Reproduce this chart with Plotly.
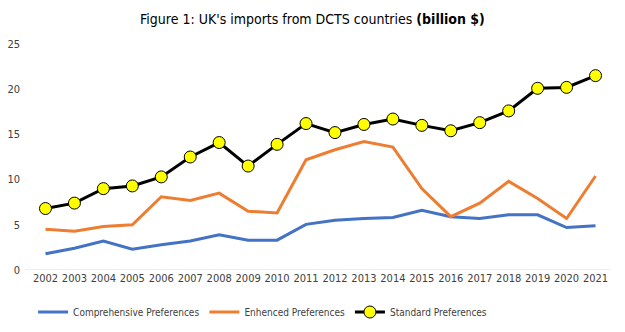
import plotly.graph_objects as go

years = [str(y) for y in range(2002, 2022)]
comprehensive = [1.8, 2.4, 3.2, 2.3, 2.8, 3.2, 3.9, 3.3, 3.3, 5.05, 5.5, 5.7, 5.8, 6.6, 5.9, 5.7, 6.1, 6.1, 4.7, 4.9]
enhenced = [4.5, 4.3, 4.8, 5.0, 8.1, 7.7, 8.5, 6.5, 6.3, 12.2, 13.3, 14.2, 13.6, 9.0, 5.9, 7.4, 9.8, 7.9, 5.7, 10.4]
standard = [6.8, 7.4, 9.0, 9.3, 10.3, 12.5, 14.1, 11.5, 13.9, 16.2, 15.2, 16.1, 16.7, 16.0, 15.4, 16.3, 17.6, 20.1, 20.2, 21.5]
y_ticks = [0, 5, 10, 15, 20, 25]

FONT = "DejaVu Sans Condensed, Liberation Sans, Arial, sans-serif"

fig = go.Figure()
fig.add_trace(go.Scatter(x=years, y=comprehensive, mode="lines", name="Comprehensive Preferences",
                         line=dict(color="#4472C4", width=3)))
fig.add_trace(go.Scatter(x=years, y=enhenced, mode="lines", name="Enhenced Preferences",
                         line=dict(color="#ED7D31", width=3)))
fig.add_trace(go.Scatter(x=years, y=standard, mode="lines+markers", name="Standard Preferences",
                         line=dict(color="#000000", width=3),
                         marker=dict(color="#FFFF00", size=12, line=dict(color="#000000", width=1))))

fig.update_layout(
    width=625, height=332,
    margin=dict(l=31, r=15, t=44, b=62, autoexpand=False),
    paper_bgcolor="white", plot_bgcolor="white",
    font=dict(family=FONT, size=11, color="#404040"),
    title=dict(text="Figure 1: UK's imports from DCTS countries <b>(billion $)</b>",
               x=0.5, xanchor="center", y=1 - 19/332, yanchor="middle",
               font=dict(family=FONT, size=14, color="#000000")),
    showlegend=True,
    legend=dict(orientation="h", x=0.40, xanchor="center", y=-(312-270)/226, yanchor="middle",
                font=dict(family=FONT, size=10, color="#404040"), itemwidth=30,
                traceorder="normal"),
)
fig.add_shape(type="line", xref="paper", yref="y", x0=-0.01, x1=1.0, y0=0, y1=0,
              line=dict(color="#D9D9D9", width=1), layer="below")
fig.update_xaxes(type="category", range=[-0.5, len(years) - 0.5], showgrid=False, showline=False,
                 ticks="", tickangle=0, tickfont=dict(family=FONT, size=11, color="#404040"))
fig.update_yaxes(range=[0, 25], tickvals=y_ticks, showgrid=False, zeroline=False,
                 showline=False, ticks="", ticklabelstandoff=10,
                 tickfont=dict(family=FONT, size=11, color="#404040"))

fig.write_html("out.html")
